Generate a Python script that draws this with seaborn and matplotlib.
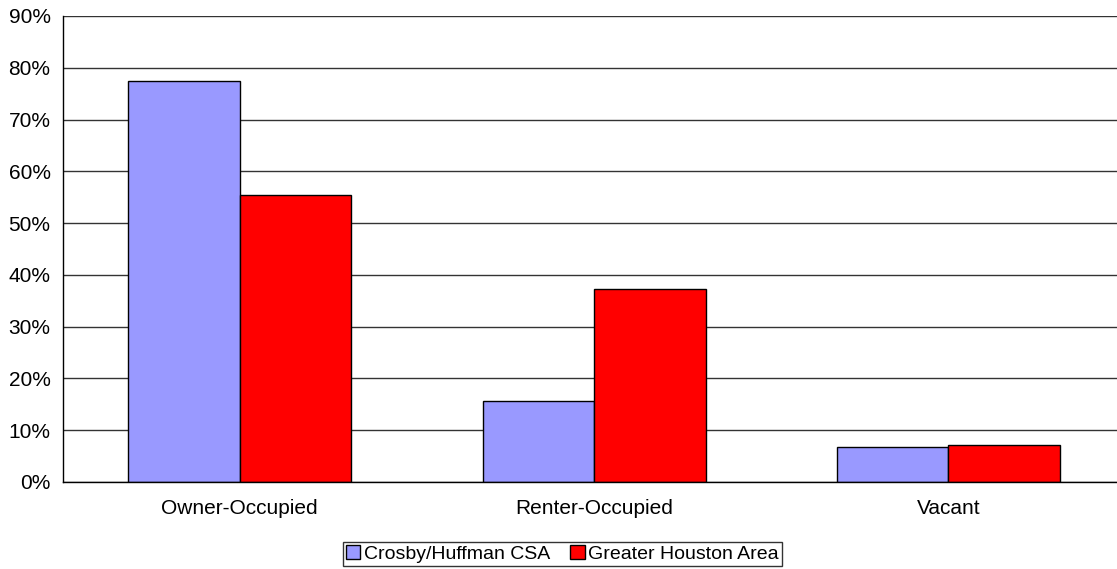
import pandas as pd
import seaborn as sns
import matplotlib.pyplot as plt
from matplotlib.ticker import PercentFormatter, FixedLocator

# Housing tenure shares
categories = ["Owner-Occupied", "Renter-Occupied", "Vacant"]
crosby_huffman = [77.4, 15.7, 6.8]
greater_houston = [55.4, 37.3, 7.1]
series_names = ["Crosby/Huffman CSA", "Greater Houston Area"]
y_ticks = [0, 10, 20, 30, 40, 50, 60, 70, 80, 90]

df = pd.DataFrame({
    "category": categories * 2,
    "share": crosby_huffman + greater_houston,
    "area": [series_names[0]] * 3 + [series_names[1]] * 3,
})

sns.set_style("white")
plt.rcParams['font.family'] = ['Liberation Sans', 'DejaVu Sans']
plt.rcParams['text.color'] = 'black'
plt.rcParams['xtick.color'] = 'black'
plt.rcParams['ytick.color'] = 'black'

fig = plt.figure(figsize=(11.17, 5.69), dpi=100)
ax = fig.add_axes([0.056, 0.1529, 0.9517, 0.819])

sns.barplot(data=df, x="category", y="share", hue="area",
            palette=["#9999ff", "#ff0000"], width=0.629,
            edgecolor="black", linewidth=1, saturation=1, ax=ax)

ax.set_ylim(0, 90)
ax.set_xlim(-0.5, 2.5)
ax.set_yticks(y_ticks)
ax.yaxis.set_major_formatter(PercentFormatter(decimals=0))
ax.yaxis.grid(True, color="#333333", linewidth=1)
ax.set_axisbelow(True)
ax.set_xlabel("")
ax.set_ylabel("")

ax.xaxis.set_minor_locator(FixedLocator([0.5, 1.5]))
ax.tick_params(axis="x", which="major", length=0, labelsize=15, pad=12)
ax.tick_params(axis="x", which="minor", length=3.6, width=0.8)
ax.tick_params(axis="y", length=3.6, width=0.8, labelsize=15, pad=5)

for side in ["top", "right"]:
    ax.spines[side].set_visible(False)
for side in ["left", "bottom"]:
    ax.spines[side].set_color("black")
    ax.spines[side].set_linewidth(1)

ax.legend_.remove()
handles, labels = ax.get_legend_handles_labels()
leg = fig.legend(handles, labels, loc="center", bbox_to_anchor=(0.5035, 0.0264),
                 ncol=2, frameon=True, fontsize=14, handlelength=0.75,
                 handleheight=0.75, handletextpad=0.2, columnspacing=1.0,
                 borderpad=0.15, fancybox=False, borderaxespad=0)
leg.get_frame().set_edgecolor("black")
leg.get_frame().set_linewidth(1)

fig.savefig("out.png", dpi=100)
